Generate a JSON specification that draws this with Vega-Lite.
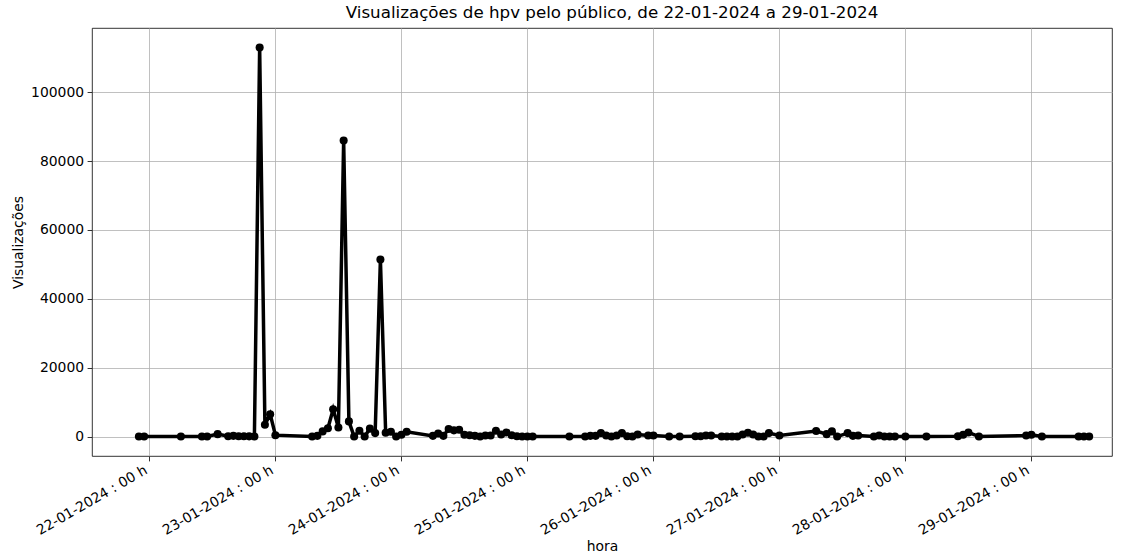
{
  "$schema": "https://vega.github.io/schema/vega-lite/v6.json",
  "autosize": {"type": "none"},
  "width": 1020,
  "height": 428,
  "padding": {"left": 92, "top": 28, "right": 16, "bottom": 99},
  "background": "white",
  "config": {
    "font": "DejaVu Sans",
    "view": {"stroke": "black", "strokeWidth": 0.8},
    "axis": {
      "labelFont": "DejaVu Sans",
      "labelFontSize": 13.9,
      "labelColor": "black",
      "titleFont": "DejaVu Sans",
      "titleFontSize": 13.9,
      "titleFontWeight": "normal",
      "titleColor": "black",
      "tickColor": "black",
      "tickSize": 4.9,
      "tickWidth": 0.8,
      "labelPadding": 3.5,
      "domain": false,
      "grid": true,
      "gridColor": "#b0b0b0",
      "gridWidth": 0.8
    }
  },
  "title": {
    "text": "Visualizações de hpv pelo público, de 22-01-2024 a 29-01-2024",
    "font": "DejaVu Sans",
    "fontSize": 16.7,
    "fontWeight": "normal",
    "color": "black",
    "anchor": "middle",
    "offset": 6,
    "dx": 10
  },
  "data": {
    "values": [
      {"t": "2024-01-21T22:00:00Z", "v": 0},
      {"t": "2024-01-21T23:00:00Z", "v": 0},
      {"t": "2024-01-22T06:00:00Z", "v": 0},
      {"t": "2024-01-22T10:00:00Z", "v": 0},
      {"t": "2024-01-22T11:00:00Z", "v": 0},
      {"t": "2024-01-22T13:00:00Z", "v": 700},
      {"t": "2024-01-22T15:00:00Z", "v": 100},
      {"t": "2024-01-22T16:00:00Z", "v": 200},
      {"t": "2024-01-22T17:00:00Z", "v": 100},
      {"t": "2024-01-22T18:00:00Z", "v": 100},
      {"t": "2024-01-22T19:00:00Z", "v": 50},
      {"t": "2024-01-22T20:00:00Z", "v": 0},
      {"t": "2024-01-22T21:00:00Z", "v": 113000},
      {"t": "2024-01-22T22:00:00Z", "v": 3400},
      {"t": "2024-01-22T23:00:00Z", "v": 6500},
      {"t": "2024-01-23T00:00:00Z", "v": 400},
      {"t": "2024-01-23T07:00:00Z", "v": 0},
      {"t": "2024-01-23T08:00:00Z", "v": 200},
      {"t": "2024-01-23T09:00:00Z", "v": 1500},
      {"t": "2024-01-23T10:00:00Z", "v": 2400},
      {"t": "2024-01-23T11:00:00Z", "v": 7900},
      {"t": "2024-01-23T12:00:00Z", "v": 2600},
      {"t": "2024-01-23T13:00:00Z", "v": 86000},
      {"t": "2024-01-23T14:00:00Z", "v": 4400},
      {"t": "2024-01-23T15:00:00Z", "v": 0},
      {"t": "2024-01-23T16:00:00Z", "v": 1700},
      {"t": "2024-01-23T17:00:00Z", "v": 0},
      {"t": "2024-01-23T18:00:00Z", "v": 2300},
      {"t": "2024-01-23T19:00:00Z", "v": 1000},
      {"t": "2024-01-23T20:00:00Z", "v": 51400},
      {"t": "2024-01-23T21:00:00Z", "v": 1100},
      {"t": "2024-01-23T22:00:00Z", "v": 1400},
      {"t": "2024-01-23T23:00:00Z", "v": 0},
      {"t": "2024-01-24T00:00:00Z", "v": 500},
      {"t": "2024-01-24T01:00:00Z", "v": 1400},
      {"t": "2024-01-24T06:00:00Z", "v": 200},
      {"t": "2024-01-24T07:00:00Z", "v": 900},
      {"t": "2024-01-24T08:00:00Z", "v": 200},
      {"t": "2024-01-24T09:00:00Z", "v": 2200},
      {"t": "2024-01-24T10:00:00Z", "v": 1800},
      {"t": "2024-01-24T11:00:00Z", "v": 2000},
      {"t": "2024-01-24T12:00:00Z", "v": 500},
      {"t": "2024-01-24T13:00:00Z", "v": 400},
      {"t": "2024-01-24T14:00:00Z", "v": 200},
      {"t": "2024-01-24T15:00:00Z", "v": 0},
      {"t": "2024-01-24T16:00:00Z", "v": 300},
      {"t": "2024-01-24T17:00:00Z", "v": 300},
      {"t": "2024-01-24T18:00:00Z", "v": 1700},
      {"t": "2024-01-24T19:00:00Z", "v": 600},
      {"t": "2024-01-24T20:00:00Z", "v": 1200},
      {"t": "2024-01-24T21:00:00Z", "v": 400},
      {"t": "2024-01-24T22:00:00Z", "v": 100},
      {"t": "2024-01-24T23:00:00Z", "v": 0},
      {"t": "2024-01-25T00:00:00Z", "v": 0},
      {"t": "2024-01-25T01:00:00Z", "v": 0},
      {"t": "2024-01-25T08:00:00Z", "v": 0},
      {"t": "2024-01-25T11:00:00Z", "v": 0},
      {"t": "2024-01-25T12:00:00Z", "v": 200},
      {"t": "2024-01-25T13:00:00Z", "v": 200},
      {"t": "2024-01-25T14:00:00Z", "v": 1000},
      {"t": "2024-01-25T15:00:00Z", "v": 300},
      {"t": "2024-01-25T16:00:00Z", "v": 0},
      {"t": "2024-01-25T17:00:00Z", "v": 300},
      {"t": "2024-01-25T18:00:00Z", "v": 1000},
      {"t": "2024-01-25T19:00:00Z", "v": 100},
      {"t": "2024-01-25T20:00:00Z", "v": 0},
      {"t": "2024-01-25T21:00:00Z", "v": 600},
      {"t": "2024-01-25T23:00:00Z", "v": 300},
      {"t": "2024-01-26T00:00:00Z", "v": 300},
      {"t": "2024-01-26T03:00:00Z", "v": 0},
      {"t": "2024-01-26T05:00:00Z", "v": 0},
      {"t": "2024-01-26T08:00:00Z", "v": 100},
      {"t": "2024-01-26T09:00:00Z", "v": 100},
      {"t": "2024-01-26T10:00:00Z", "v": 300},
      {"t": "2024-01-26T11:00:00Z", "v": 300},
      {"t": "2024-01-26T13:00:00Z", "v": 0},
      {"t": "2024-01-26T14:00:00Z", "v": 0},
      {"t": "2024-01-26T15:00:00Z", "v": 0},
      {"t": "2024-01-26T16:00:00Z", "v": 0},
      {"t": "2024-01-26T17:00:00Z", "v": 600},
      {"t": "2024-01-26T18:00:00Z", "v": 1100},
      {"t": "2024-01-26T19:00:00Z", "v": 600},
      {"t": "2024-01-26T20:00:00Z", "v": 0},
      {"t": "2024-01-26T21:00:00Z", "v": 0},
      {"t": "2024-01-26T22:00:00Z", "v": 1000},
      {"t": "2024-01-27T00:00:00Z", "v": 300},
      {"t": "2024-01-27T07:00:00Z", "v": 1600},
      {"t": "2024-01-27T09:00:00Z", "v": 700},
      {"t": "2024-01-27T10:00:00Z", "v": 1500},
      {"t": "2024-01-27T11:00:00Z", "v": 0},
      {"t": "2024-01-27T13:00:00Z", "v": 1000},
      {"t": "2024-01-27T14:00:00Z", "v": 200},
      {"t": "2024-01-27T15:00:00Z", "v": 300},
      {"t": "2024-01-27T18:00:00Z", "v": 0},
      {"t": "2024-01-27T19:00:00Z", "v": 300},
      {"t": "2024-01-27T20:00:00Z", "v": 0},
      {"t": "2024-01-27T21:00:00Z", "v": 0},
      {"t": "2024-01-27T22:00:00Z", "v": 0},
      {"t": "2024-01-28T00:00:00Z", "v": 0},
      {"t": "2024-01-28T04:00:00Z", "v": 0},
      {"t": "2024-01-28T10:00:00Z", "v": 100},
      {"t": "2024-01-28T11:00:00Z", "v": 500},
      {"t": "2024-01-28T12:00:00Z", "v": 1200},
      {"t": "2024-01-28T14:00:00Z", "v": 0},
      {"t": "2024-01-28T23:00:00Z", "v": 300},
      {"t": "2024-01-29T00:00:00Z", "v": 500},
      {"t": "2024-01-29T02:00:00Z", "v": 0},
      {"t": "2024-01-29T09:00:00Z", "v": 0},
      {"t": "2024-01-29T10:00:00Z", "v": 0},
      {"t": "2024-01-29T11:00:00Z", "v": 0}
    ]
  },
  "mark": {
    "type": "line",
    "color": "black",
    "strokeWidth": 3.5,
    "point": {"filled": true, "size": 65, "color": "black", "opacity": 1}
  },
  "encoding": {
    "x": {
      "field": "t",
      "type": "temporal",
      "title": "hora",
      "scale": {
        "type": "utc",
        "domain": [
          {"year": 2024, "month": 1, "date": 21, "hours": 13, "minutes": 4, "utc": true},
          {"year": 2024, "month": 1, "date": 29, "hours": 15, "minutes": 21, "utc": true}
        ]
      },
      "axis": {
        "values": [
          {"year": 2024, "month": 1, "date": 22, "utc": true},
          {"year": 2024, "month": 1, "date": 23, "utc": true},
          {"year": 2024, "month": 1, "date": 24, "utc": true},
          {"year": 2024, "month": 1, "date": 25, "utc": true},
          {"year": 2024, "month": 1, "date": 26, "utc": true},
          {"year": 2024, "month": 1, "date": 27, "utc": true},
          {"year": 2024, "month": 1, "date": 28, "utc": true},
          {"year": 2024, "month": 1, "date": 29, "utc": true}
        ],
        "labelExpr": "utcFormat(datum.value, '%d-%m-%Y : %H h')",
        "labelAngle": -30,
        "labelAlign": "right",
        "labelBaseline": "bottom",
        "labelPadding": 14,
        "labelOverlap": false,
        "labelBound": false,
        "labelFlush": false,
        "titlePadding": 2
      }
    },
    "y": {
      "field": "v",
      "type": "quantitative",
      "title": "Visualizações",
      "scale": {"domain": [-5650, 118650], "nice": false, "zero": false},
      "axis": {
        "values": [0, 20000, 40000, 60000, 80000, 100000],
        "format": "d",
        "titlePadding": 5
      }
    }
  }
}
